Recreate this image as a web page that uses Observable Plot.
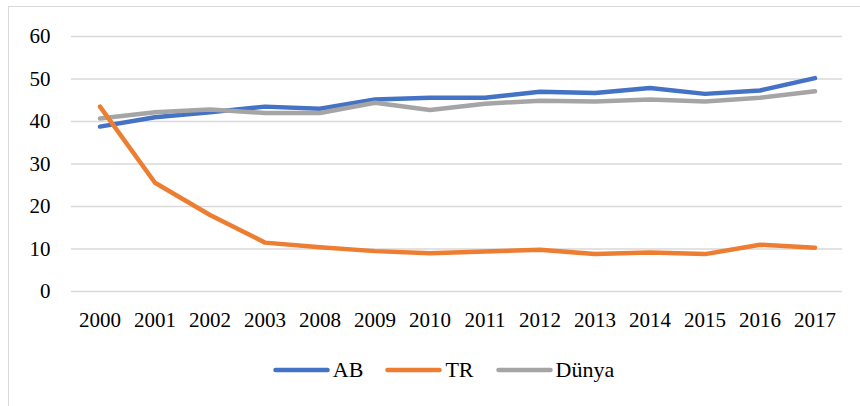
<!DOCTYPE html>
<html>
<head>
<meta charset="utf-8">
<script src="https://cdn.jsdelivr.net/npm/d3@7"></script>
<script src="https://cdn.jsdelivr.net/npm/@observablehq/plot@0.6"></script>
<style>
  html, body { margin: 0; padding: 0; background: #fff; }
  #wrap { position: relative; width: 860px; height: 406px; overflow: hidden; font-family: "Liberation Serif", "Times New Roman", serif; }
  #frame { position: absolute; left: 8px; top: 6px; width: 900px; height: 500px; border-left: 1.5px solid #d9d9d9; border-top: 1.5px solid #d9d9d9; pointer-events: none; }
  #legend { display: flex; justify-content: center; align-items: center; height: 50px; font-size: 22px; color: #000; margin-left: 27px; }
  .item { display: flex; align-items: center; margin: 0 11px; }
  .item svg { margin-right: 3px; }
</style>
</head>
<body>
<div id="wrap">
  <div id="chart"></div>
  <div id="legend"></div>
  <div id="frame"></div>
</div>
<script>
const years = ["2000","2001","2002","2003","2008","2009","2010","2011","2012","2013","2014","2015","2016","2017"];
const seriesNames = ["AB", "TR", "Dünya"];
const seriesColors = ["#4472C4", "#ED7D31", "#A5A5A5"];
const AB    = [38.8, 41.0, 42.2, 43.5, 43.0, 45.2, 45.6, 45.6, 47.0, 46.7, 47.9, 46.5, 47.3, 50.2];
const TR    = [43.5, 25.6, 18.0, 11.5, 10.4, 9.5, 9.0, 9.4, 9.8, 8.8, 9.2, 8.8, 11.0, 10.3];
const Dunya = [40.7, 42.2, 42.8, 42.0, 42.0, 44.4, 42.7, 44.2, 44.9, 44.7, 45.2, 44.7, 45.6, 47.1];
const yTicks = [0, 10, 20, 30, 40, 50, 60];

const valuesBySeries = {"AB": AB, "TR": TR, "Dünya": Dunya};
const drawOrder = ["AB", "Dünya", "TR"];
const data = drawOrder.flatMap(s => years.map((yr, i) => ({series: s, year: yr, value: valuesBySeries[s][i]})));

const chart = Plot.plot({
  width: 860,
  height: 345,
  marginLeft: 71,
  marginRight: 18,
  marginTop: 36,
  marginBottom: 54,
  style: {fontFamily: "'Liberation Serif', 'Times New Roman', serif", fontSize: "21px", color: "#000", background: "transparent", overflow: "visible"},
  x: {type: "band", domain: years, padding: 0, label: null},
  y: {domain: [0, 60], label: null},
  color: {domain: seriesNames, range: seriesColors},
  marks: [
    Plot.gridY(yTicks, {stroke: "#d9d9d9", strokeOpacity: 1, strokeWidth: 1.5}),
    Plot.axisY(yTicks, {tickSize: 0, tickPadding: 21, label: null, fill: "#000"}),
    Plot.axisX({tickSize: 0, tickPadding: 21, label: null, fill: "#000"}),
    Plot.line(data, {x: "year", y: "value", z: "series", stroke: "series", strokeWidth: 4.5, strokeLinejoin: "round", strokeLinecap: "round"})
  ]
});
document.getElementById("chart").appendChild(chart);

const legend = document.getElementById("legend");
seriesNames.forEach((name, i) => {
  const item = document.createElement("div");
  item.className = "item";
  item.innerHTML = `<svg width="57" height="10"><line x1="2.5" y1="5" x2="54.5" y2="5" stroke="${seriesColors[i]}" stroke-width="4.5" stroke-linecap="round"/></svg><span>${name}</span>`;
  legend.appendChild(item);
});
</script>
</body>
</html>
